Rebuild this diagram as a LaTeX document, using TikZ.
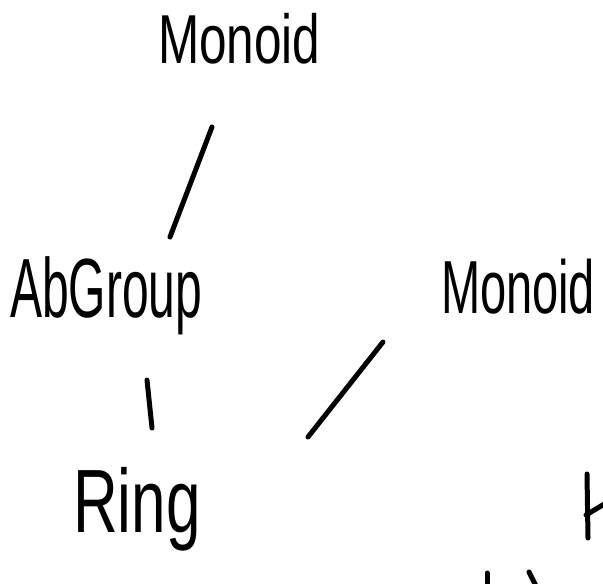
\documentclass[tikz,border=0pt]{standalone}
\usepackage{fontspec}
\setmainfont{Liberation Sans}
\begin{document}
\begin{tikzpicture}[x=1pt,y=-1pt,
  stroke/.style={line width=5pt,line cap=round,line join=round,black},
  lbl/.style={inner sep=0pt,outer sep=0pt,anchor=base west}]
\useasboundingbox (0,0) rectangle (603,584);
% labels
\node[lbl] (m1) at (158,63) {\scalebox{1}[1.4]{\fontsize{49.5}{50}\selectfont Monoid}};
\node[lbl] (ab) at (10,317) {\scalebox{1}[1.75]{\fontsize{48}{48}\selectfont AbGroup}};
\node[lbl] (m2) at (441,313) {\scalebox{1}[1.6]{\fontsize{47}{48}\selectfont Monoid}};
\node[lbl] (ring) at (73,532) {\scalebox{1}[1.45]{\fontsize{62}{62}\selectfont Ring}};
% connector end points
\coordinate (a1) at (212,127); \coordinate (a2) at (170,237);
\coordinate (b1) at (147,380); \coordinate (b2) at (152,428);
\coordinate (c1) at (383,342); \coordinate (c2) at (308,437);
\coordinate (d1) at (487,573); \coordinate (d2) at (487,590);
\coordinate (e1) at (529,572); \coordinate (e2) at (538,590);
% connectors
\draw[stroke] (a1) -- (a2);
\draw[stroke] (b1) -- (b2);
\draw[stroke] (c1) -- (c2);
\draw[stroke] (d1) -- (d2);
\draw[stroke] (e1) -- (e2);
% partial label cut at the right edge
\coordinate (k1) at (587,474); \coordinate (k2) at (588,538);
\coordinate (k3) at (586,515); \coordinate (k4) at (606,503);
\draw[stroke] (k1) -- (k2);
\draw[stroke] (k3) -- (k4);
\end{tikzpicture}
\end{document}
